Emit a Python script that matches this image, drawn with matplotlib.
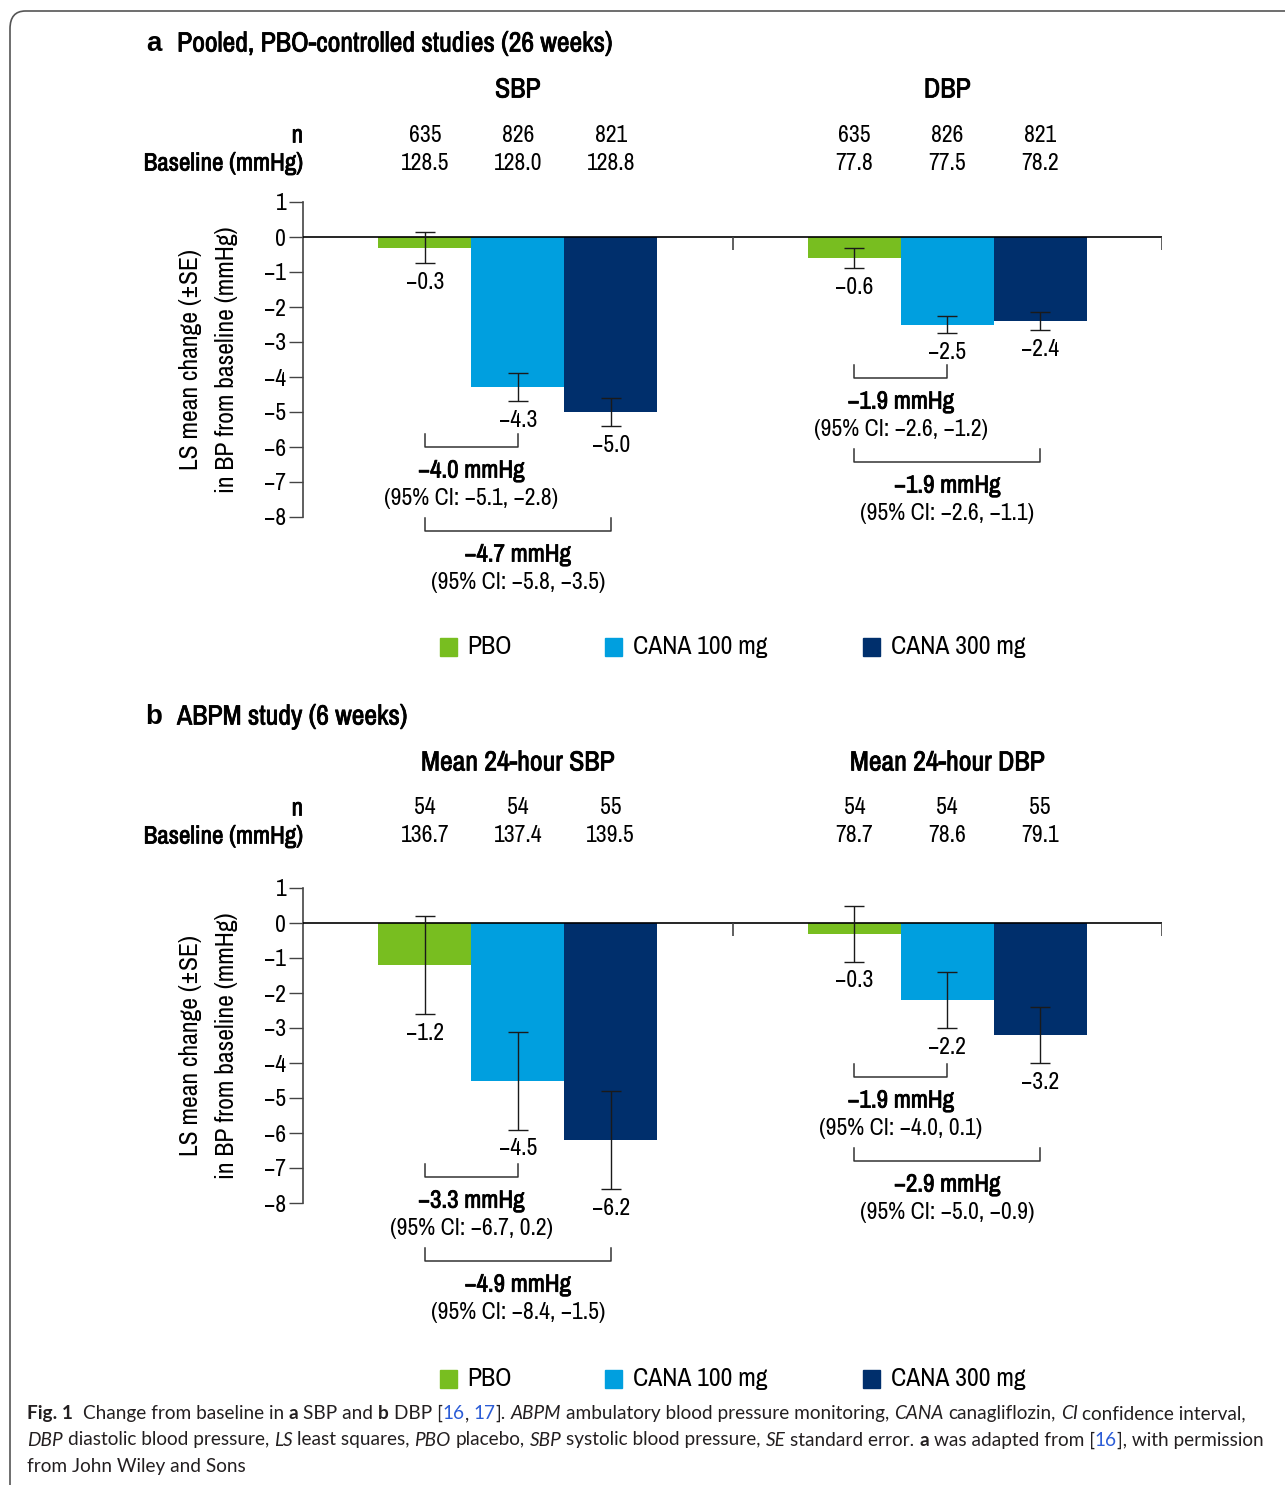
import matplotlib
matplotlib.use("Agg")
import matplotlib.pyplot as plt
import matplotlib.patheffects as pe
from matplotlib import font_manager
from matplotlib.patches import Rectangle, FancyBboxPatch
from matplotlib.lines import Line2D

W, H = 1285, 1485

# narrow grotesque for the chart text; bold is thickened with a stroke when the family has no bold face
_fonts = font_manager.fontManager.ttflist
_names = sorted({f.name for f in _fonts})
_narrow = [n for n in _names if 'Narrow' in n] + [n for n in _names if 'Condensed' in n]


def _has_bold(name):
    return any(f.name == name and (f.weight == 'bold' or (isinstance(f.weight, int) and f.weight >= 600))
               for f in _fonts)


if _narrow:
    COND = [_narrow[0], 'Roboto', 'DejaVu Sans']
    FAKE_BOLD = not _has_bold(_narrow[0])
    FS = 17
else:
    COND = ['Roboto', 'DejaVu Sans']
    FAKE_BOLD = False
    FS = 15
BFS = FS + 1 if FAKE_BOLD else FS
CAPF = ['Lato', 'Open Sans', 'DejaVu Sans']
plt.rcParams['font.family'] = COND
plt.rcParams['axes.unicode_minus'] = True


def bold_kw():
    if FAKE_BOLD:
        return dict(path_effects=[pe.withStroke(linewidth=0.55, foreground='black')])
    return dict(fontweight='bold')


# treatment arms
arms = ['PBO', 'CANA 100 mg', 'CANA 300 mg']
arm_colors = ['#78be20', '#009fdf', '#002f6c']

# panel a: pooled placebo-controlled studies (26 weeks)
a_groups = ['SBP', 'DBP']
a_n = [[635, 826, 821], [635, 826, 821]]
a_baseline = [['128.5', '128.0', '128.8'], ['77.8', '77.5', '78.2']]
a_change = [[-0.3, -4.3, -5.0], [-0.6, -2.5, -2.4]]
a_se = [[0.45, 0.4, 0.4], [0.28, 0.25, 0.25]]
a_diff = [[('−4.0 mmHg', '(95% CI: −5.1, −2.8)'), ('−4.7 mmHg', '(95% CI: −5.8, −3.5)')],
          [('−1.9 mmHg', '(95% CI: −2.6, −1.2)'), ('−1.9 mmHg', '(95% CI: −2.6, −1.1)')]]

# panel b: ABPM study (6 weeks)
b_groups = ['Mean 24-hour SBP', 'Mean 24-hour DBP']
b_n = [[54, 54, 55], [54, 54, 55]]
b_baseline = [['136.7', '137.4', '139.5'], ['78.7', '78.6', '79.1']]
b_change = [[-1.2, -4.5, -6.2], [-0.3, -2.2, -3.2]]
b_se = [[1.4, 1.4, 1.4], [0.8, 0.8, 0.8]]
b_diff = [[('−3.3 mmHg', '(95% CI: −6.7, 0.2)'), ('−4.9 mmHg', '(95% CI: −8.4, −1.5)')],
          [('−1.9 mmHg', '(95% CI: −4.0, 0.1)'), ('−2.9 mmHg', '(95% CI: −5.0, −0.9)')]]

yticks = list(range(-8, 2))
BAR_W = 0.2163
offsets = [-BAR_W, 0, BAR_W]

fig = plt.figure(figsize=(W / 100, H / 100), dpi=100)


def fx(px):
    return px / W


def fy(py):
    return 1 - py / H


def fmt(v):
    return f'{v:.1f}'.replace('-', '−')


def draw_panel(top, rows, letter, title, groups, ns, baselines, change, se, diffs, bracket_y):
    title_y, group_y, n_y, base_y, legend_y = rows
    # header rows
    fig.text(fx(162), fy(title_y), letter, family=['Liberation Sans', 'DejaVu Sans'],
             fontsize=20, fontweight='bold', ha='right', va='center')
    fig.text(fx(177), fy(title_y), title, fontsize=BFS + 2, ha='left', va='center', **bold_kw())
    fig.text(fx(303), fy(n_y), 'n', fontsize=BFS, ha='right', va='center', **bold_kw())
    fig.text(fx(303), fy(base_y), 'Baseline (mmHg)', fontsize=BFS,
             ha='right', va='center', **bold_kw())
    fig.text(fx(190), fy(top + 158), 'LS mean change (±SE)', fontsize=FS + 1.5, rotation=90,
             ha='center', va='center')
    fig.text(fx(227), fy(top + 158), 'in BP from baseline (mmHg)', fontsize=FS + 1.5, rotation=90,
             ha='center', va='center')

    ax = fig.add_axes([fx(303), fy(top + 315), fx(1162) - fx(303), fy(top) - fy(top + 315)])
    ax.set_xlim(0, 2)
    ax.set_ylim(-8, 1)
    ax.patch.set_alpha(0)
    for s in ['top', 'right', 'bottom']:
        ax.spines[s].set_visible(False)
    ax.spines['left'].set_bounds(-8, 1)
    ax.spines['left'].set_color('#444444')
    ax.spines['left'].set_linewidth(1.2)
    ax.set_xticks([])
    ax.set_yticks(yticks)
    ax.set_yticklabels([str(t).replace('-', '−') for t in yticks])
    ax.tick_params(axis='y', direction='out', length=10, width=1, color='#444444',
                   labelsize=FS, pad=2)
    ax.axhline(0, color='black', lw=1.2, zorder=4)
    ax.vlines([1, 2], -0.37, 0, color='#444444', lw=1.2, zorder=4)

    for g in range(2):
        centre = g + 0.5
        xs = [centre + o for o in offsets]
        ax.bar(xs, change[g], width=BAR_W, color=arm_colors, zorder=2)
        ax.errorbar(xs, change[g], yerr=se[g], fmt='none', ecolor='#1a1a1a', elinewidth=1,
                    capsize=7.5, capthick=1, zorder=5)
        for x, v, e, n, b in zip(xs, change[g], se[g], ns[g], baselines[g]):
            ax.text(x, v - e - 0.55, fmt(v), fontsize=FS, ha='center', va='center')
            xf = fx(303) + x / 2 * (fx(1162) - fx(303))
            fig.text(xf, fy(n_y), str(n), fontsize=FS, ha='center', va='center')
            fig.text(xf, fy(base_y), b, fontsize=FS, ha='center', va='center')
        fig.text(fx(303) + centre / 2 * (fx(1162) - fx(303)), fy(group_y), groups[g],
                 fontsize=BFS + 2, ha='center', va='center', **bold_kw())

        # treatment differences vs placebo
        for k, (bold, ci) in enumerate(diffs[g]):
            x0, x1 = xs[0], xs[k + 1]
            yb = bracket_y[g][k]
            ax.add_line(Line2D([x0, x0, x1, x1], [yb + 0.38, yb, yb, yb + 0.38],
                               color='#333333', lw=1.1, clip_on=False))
            xm = (x0 + x1) / 2
            ax.text(xm, yb - 0.66, bold, fontsize=BFS, ha='center', va='center', **bold_kw())
            ax.text(xm, yb - 1.46, ci, fontsize=FS, ha='center', va='center')

    # legend row
    for (sx, tx), lab, col in zip([(440, 467), (605, 633), (863, 891)], arms, arm_colors):
        fig.patches.append(Rectangle((fx(sx), fy(legend_y + 9)), fx(17), 18 / H, color=col,
                                     transform=fig.transFigure, figure=fig))
        fig.text(fx(tx), fy(legend_y), lab, fontsize=FS + 1.5, ha='left', va='center')
    return ax


draw_panel(202, (44, 90, 135, 163, 647), 'a', 'Pooled, PBO-controlled studies (26 weeks)',
           a_groups, a_n, a_baseline, a_change, a_se, a_diff, [[-6.0, -8.4], [-4.03, -6.43]])
draw_panel(888, (717, 763, 808, 836, 1379), 'b', 'ABPM study (6 weeks)',
           b_groups, b_n, b_baseline, b_change, b_se, b_diff, [[-7.26, -9.66], [-4.4, -6.8]])

# rounded frame
fig.patches.append(FancyBboxPatch((fx(10), fy(1540)), fx(1400), 1529 / H,
                                  boxstyle='round,pad=0,rounding_size=0.012',
                                  transform=fig.transFigure, figure=fig,
                                  facecolor='none', edgecolor='#555555', lw=1.2))

# caption, written piece by piece so that bold/italic/link runs sit inline
caption = [
    [('Fig. 1', 'b'), ('  Change from baseline in ', 'n'), ('a', 'b'), (' SBP and ', 'n'),
     ('b', 'b'), (' DBP [', 'n'), ('16', 'l'), (', ', 'n'), ('17', 'l'), ('].', 'n'),
     (' ABPM', 'i'), (' ambulatory blood pressure monitoring, ', 'n'), ('CANA', 'i'),
     (' canagliflozin, ', 'n'), ('CI', 'i'), (' confidence interval,', 'n')],
    [('DBP', 'i'), (' diastolic blood pressure, ', 'n'), ('LS', 'i'), (' least squares, ', 'n'),
     ('PBO', 'i'), (' placebo, ', 'n'), ('SBP', 'i'), (' systolic blood pressure, ', 'n'),
     ('SE', 'i'), (' standard error. ', 'n'), ('a', 'b'), (' was adapted from [', 'n'),
     ('16', 'l'), ('], with permission', 'n')],
    [('from John Wiley and Sons', 'n')],
]
cap_size = 13.7
cap_style = {
    'n': dict(color='#231f20'),
    'b': dict(color='#231f20', fontweight='bold'),
    'i': dict(color='#231f20', style='italic'),
    'l': dict(color='#2b5cd6'),
}
renderer = fig.canvas.get_renderer()


def advance(s, kw):
    def w(t):
        tt = fig.text(0, 0, t, family=CAPF, fontsize=cap_size, **kw)
        ww = tt.get_window_extent(renderer).width
        tt.remove()
        return ww
    return w('|' + s + '|') - w('||')


for row, pieces in enumerate(caption):
    x = 27
    base = 1419 + row * 26.5
    for s, st in pieces:
        kw = cap_style[st]
        lead = s[:len(s) - len(s.lstrip())]
        xd = x + (advance(lead, kw) if lead else 0)
        fig.text(fx(xd), fy(base), s.strip(), family=CAPF, fontsize=cap_size,
                 ha='left', va='baseline', **kw)
        x += advance(s, kw)

fig.savefig('out.png', dpi=100)
